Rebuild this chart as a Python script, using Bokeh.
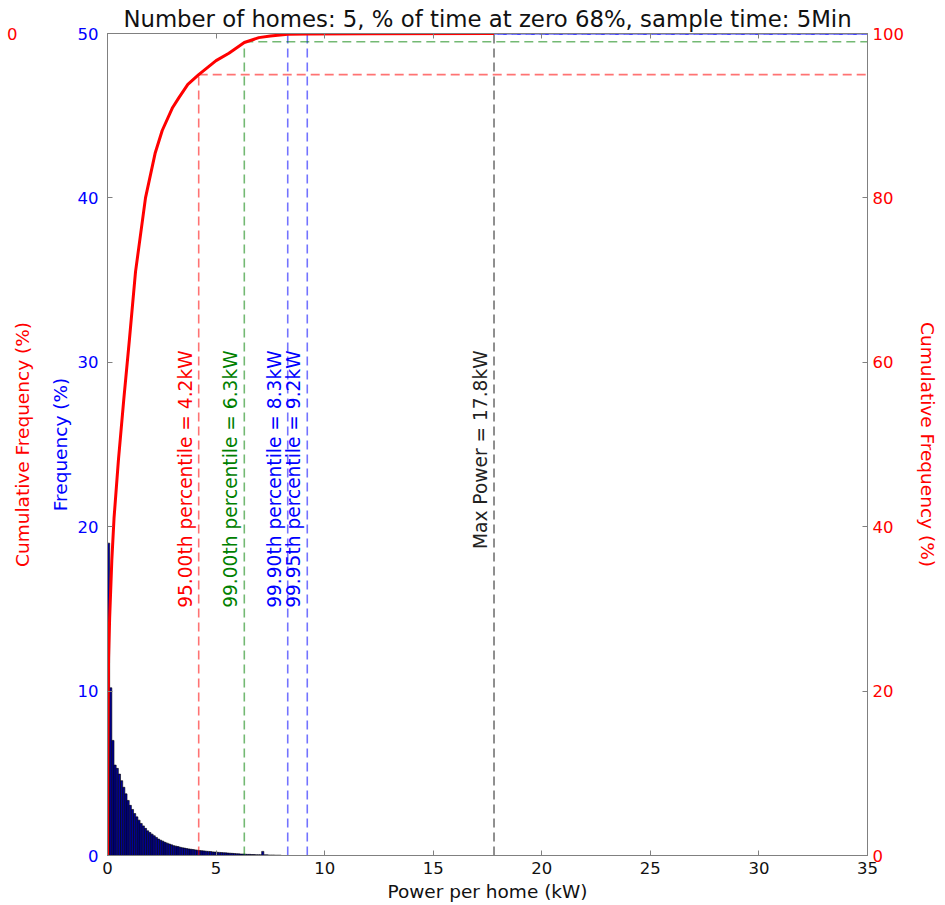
import math
from bokeh.plotting import figure
from bokeh.models import Range1d, LinearAxis, FixedTicker, ColumnDataSource
from bokeh.embed import file_html
from bokeh.resources import INLINE
from bokeh.core.properties import value

TITLE = "Number of homes: 5, % of time at zero 68%, sample time: 5Min"
X_LABEL = "Power per home (kW)"
FREQ_LABEL = "Frequency (%)"
CUM_LABEL = "Cumulative Frequency (%)"

bin_width = 0.1  # kW
freq = [19.0, 10.2, 7.0, 5.5, 5.3, 4.95, 4.55, 4.15, 3.75, 3.35,
        3.05, 2.8, 2.55, 2.35, 2.15, 1.95, 1.8, 1.65, 1.5, 1.4,
        1.3, 1.2, 1.1, 1.0, 0.93, 0.87, 0.8, 0.75, 0.7, 0.65,
        0.6, 0.57, 0.54, 0.5, 0.47, 0.45, 0.42, 0.4, 0.38, 0.36,
        0.34, 0.32, 0.3, 0.29, 0.28, 0.26, 0.25, 0.24, 0.22, 0.21,
        0.2, 0.19, 0.18, 0.17, 0.16, 0.15, 0.14, 0.13, 0.12, 0.11,
        0.1, 0.09, 0.09, 0.08, 0.07, 0.07, 0.06, 0.06, 0.05, 0.05,
        0.05, 0.25, 0.04, 0.04, 0.03, 0.03, 0.03, 0.02, 0.02, 0.02]

cum_kw = [0.0, 0.01, 0.03, 0.05, 0.1, 0.2, 0.3, 0.5, 0.75, 1.0, 1.29, 1.75,
          2.2, 2.52, 3.0, 3.29, 3.7, 4.2, 5.0, 5.59, 6.3, 6.97, 7.5, 8.3,
          9.2, 12.0, 17.8]
cum_pct = [0.0, 10.0, 19.0, 24.0, 29.0, 36.0, 41.0, 48.0, 55.5, 62.5, 71.0, 80.0,
           85.5, 88.2, 91.0, 92.2, 93.8, 95.0, 96.7, 97.6, 98.9, 99.5, 99.7, 99.9,
           99.95, 99.98, 100.0]

pct_names = ["95.00th percentile", "99.00th percentile",
             "99.90th percentile", "99.95th percentile"]
pct_levels = [95.0, 99.0, 99.9, 99.95]
pct_kw = [4.2, 6.3, 8.3, 9.2]
pct_colors = ["#ff0000", "#008000", "#0000ff", "#0000ff"]
max_name = "Max Power"
max_kw = 17.8

x_ticks = [0, 5, 10, 15, 20, 25, 30, 35]
freq_ticks = [0, 10, 20, 30, 40, 50]
cum_ticks = [0, 20, 40, 60, 80, 100]

FONT = "DejaVu Sans"
GRAY = "#808080"

p = figure(width=945, height=905, x_range=Range1d(0, 35), y_range=Range1d(0, 50),
           output_backend="svg", toolbar_location=None, title=TITLE,
           min_border_left=107, min_border_right=78, min_border_top=33, min_border_bottom=50)
p.extra_y_ranges = {"cum": Range1d(0, 100)}
p.grid.visible = False
p.outline_line_color = GRAY
p.background_fill_color = "white"

p.title.align = "center"
p.title.text_font = FONT
p.title.text_font_size = "22.8px"
p.title.text_font_style = "normal"
p.title.text_color = "#111111"
p.title.standoff = 4

def style_axis(ax, color, label_color):
    ax.axis_line_color = GRAY
    ax.major_tick_line_color = GRAY
    ax.major_tick_in = 5
    ax.major_tick_out = 0
    ax.minor_tick_line_color = None
    ax.major_label_text_font = FONT
    ax.major_label_text_font_size = "16.5px"
    ax.major_label_text_color = color
    ax.axis_label_text_font = FONT
    ax.axis_label_text_font_size = "18.5px"
    ax.axis_label_text_font_style = "normal"
    ax.axis_label_text_color = label_color

# bottom axis
xa = p.xaxis[0]
xa.ticker = FixedTicker(ticks=x_ticks)
xa.axis_label = X_LABEL
style_axis(xa, "#111111", "#111111")
xa.major_label_standoff = 6
xa.axis_label_standoff = 4

# top ticks only
ta = LinearAxis(ticker=FixedTicker(ticks=x_ticks),
                major_label_overrides={t: "" for t in x_ticks})
style_axis(ta, "#111111", "#111111")
ta.major_label_text_font_size = "0px"
ta.major_label_standoff = 0
p.add_layout(ta, "above")

# left frequency axis
ya = p.yaxis[0]
ya.ticker = FixedTicker(ticks=freq_ticks)
ya.axis_label = FREQ_LABEL
style_axis(ya, "#0000ff", "#0000ff")
ya.major_label_standoff = 9
ya.axis_label_standoff = 4

# outer cumulative axis on the left, mostly cut off by the page edge:
# only the last digit of its top label is visible
oa = LinearAxis(y_range_name="cum", ticker=FixedTicker(ticks=cum_ticks),
                major_label_overrides={t: (str(t)[-1] if t == cum_ticks[-1] else "")
                                       for t in cum_ticks},
                axis_label=CUM_LABEL)
style_axis(oa, "#ff0000", "#ff0000")
oa.axis_line_color = None
oa.major_tick_line_color = None
oa.major_label_standoff = 29
oa.axis_label_standoff = -29
p.add_layout(oa, "left")

# right cumulative axis
ra = LinearAxis(y_range_name="cum", ticker=FixedTicker(ticks=cum_ticks),
                axis_label=CUM_LABEL)
style_axis(ra, "#ff0000", "#ff0000")
ra.major_label_standoff = 5
ra.axis_label_standoff = 10
p.add_layout(ra, "right")

# histogram
centers = [bin_width * (i + 0.5) for i in range(len(freq))]
p.vbar(x=centers, width=bin_width, top=freq, bottom=0,
       fill_color="#000099", line_color="#000000", line_width=0.6)

# percentile guide lines
p.segment(x0=pct_kw, y0=[0] * len(pct_kw), x1=pct_kw, y1=pct_levels, y_range_name="cum",
          line_color=pct_colors, line_alpha=0.55, line_width=1.6, line_dash="9 5")
p.segment(x0=pct_kw, y0=pct_levels, x1=[35] * len(pct_kw), y1=pct_levels, y_range_name="cum",
          line_color=pct_colors, line_alpha=0.55, line_width=1.6, line_dash="9 5")
p.segment(x0=[max_kw], y0=[0], x1=[max_kw], y1=[100], y_range_name="cum",
          line_color="#000000", line_alpha=0.55, line_width=1.6, line_dash="9 5")

# cumulative curve
p.line(cum_kw, cum_pct, y_range_name="cum", line_color="#ff0000", line_width=3)

# vertical annotations
labels = [f"{n} = {k}kW" for n, k in zip(pct_names, pct_kw)] + [f"{max_name} = {max_kw}kW"]
src = ColumnDataSource(dict(x=pct_kw + [max_kw], y=[30.72] * 5, text=labels,
                            color=pct_colors + ["#222222"]))
p.text(x="x", y="y", text="text", source=src, angle=math.pi / 2,
       text_align="right", text_baseline="bottom", x_offset=-3,
       text_color="color", text_font=value(FONT), text_font_size="18.6px")

open("out.html", "w").write(file_html(p, INLINE))
